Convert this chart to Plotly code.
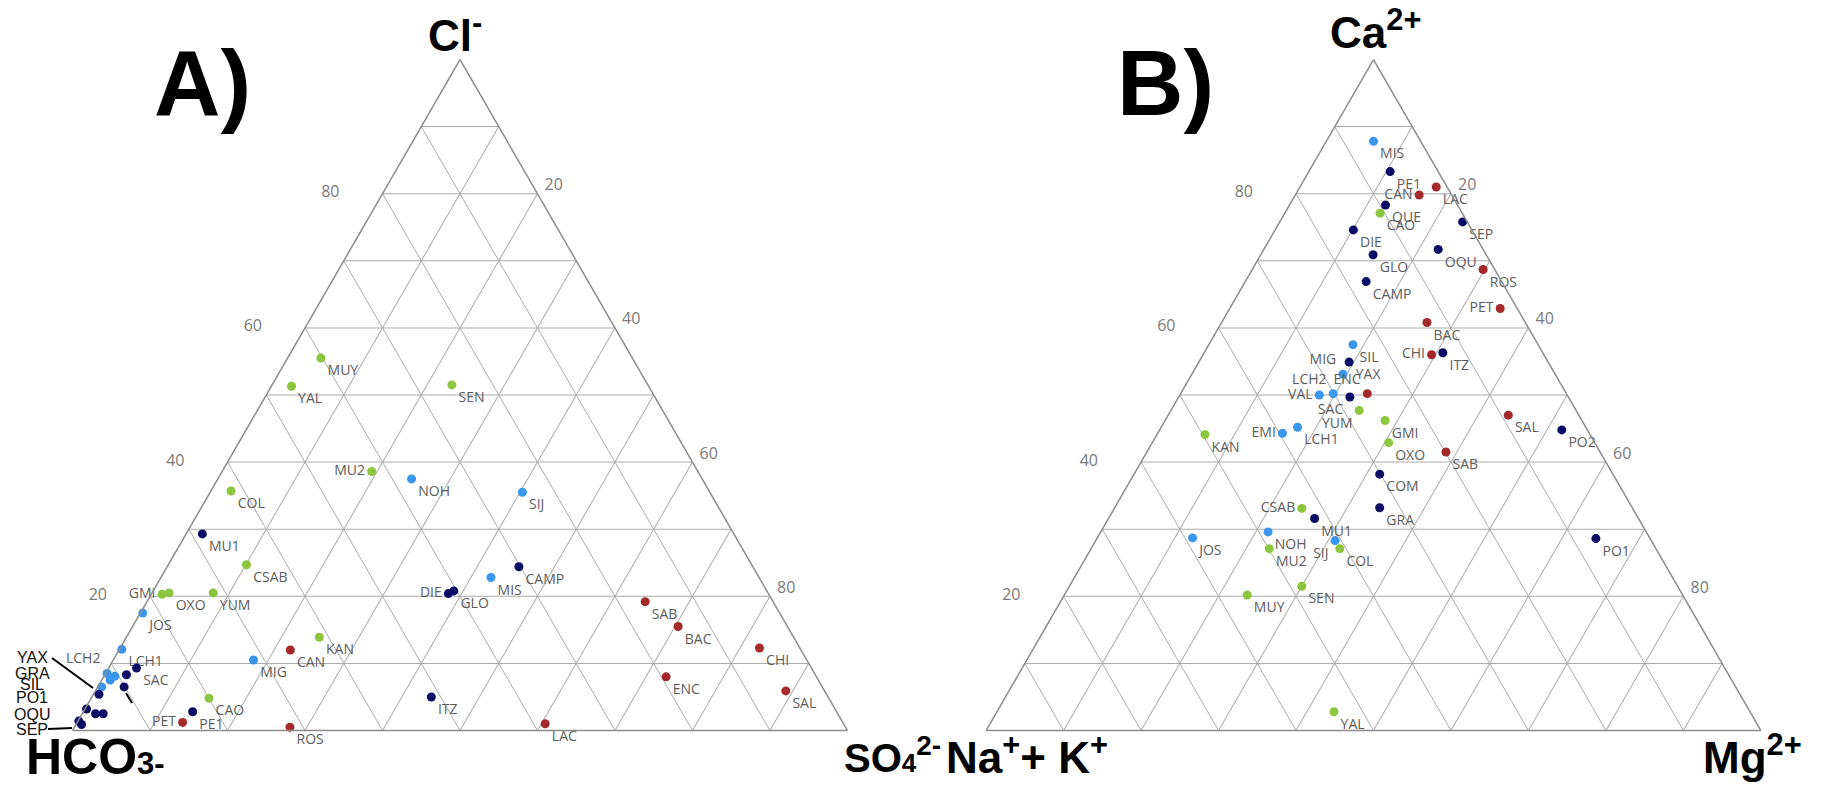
import plotly.graph_objects as go

# ---------------- data ----------------
stations = ["MIS", "PE1", "CAN", "LAC", "QUE", "CAO", "SEP", "DIE", "GLO", "OQU",
            "ROS", "CAMP", "PET", "BAC", "SIL", "CHI", "ITZ", "MIG", "YAX", "LCH2",
            "ENC", "VAL", "SAC", "YUM", "GMI", "SAL", "PO2", "KAN", "EMI", "LCH1",
            "OXO", "SAB", "COM", "CSAB", "MU1", "GRA", "NOH", "JOS", "SIJ", "COL",
            "MU2", "SEN", "MUY", "YAL", "PO1"]
groups = ["G2", "G3", "G4", "G4", "G3", "G1", "G3", "G3", "G3", "G3",
          "G4", "G3", "G4", "G4", "G2", "G4", "G3", "G2", "G3", "G2",
          "G4", "G2", "G3", "G1", "G1", "G4", "G3", "G1", "G2", "G2",
          "G1", "G4", "G3", "G1", "G3", "G3", "G2", "G2", "G2", "G1",
          "G1", "G1", "G1", "G1", "G3"]

# Panel A (anions, %)
cl = [22.8, 2.8, 12.0, 1.0, 0.9, 4.8, 1.4, 20.4, 20.8, 3.2,
      0.5, 24.4, 1.2, 15.5, 6.5, 12.3, 5.0, 10.5, 8.3, 8.5,
      8.0, 8.1, 9.3, 20.5, 20.3, 5.9, 2.5, 13.9, 7.5, 12.1,
      20.5, 19.2, 2.5, 24.7, 29.3, 6.5, 37.5, 17.5, 35.5, 35.7,
      38.6, 51.5, 55.5, 51.3, 5.4]
so4 = [42.6, 14.1, 22.1, 60.5, 0.7, 15.2, 0.1, 38.3, 38.8, 0.2,
       27.8, 45.4, 13.6, 70.4, 0.5, 82.5, 43.8, 18.1, 2.8, 0.2,
       72.6, 1.4, 3.6, 7.9, 1.4, 89.1, 2.7, 24.9, 1.1, 0.3,
       2.2, 64.3, 1.7, 10.1, 2.1, 3.4, 25.0, 0.3, 40.3, 2.6,
       19.3, 23.2, 4.3, 2.6, 0.7]
hco3 = [34.6, 83.1, 65.9, 38.5, 98.4, 80.0, 98.5, 41.3, 40.4, 96.6,
        71.7, 30.2, 85.2, 14.1, 93.0, 5.2, 51.2, 71.4, 88.9, 91.3,
        19.4, 90.5, 87.1, 71.6, 78.3, 5.0, 94.8, 61.2, 91.4, 87.6,
        77.3, 16.5, 95.8, 65.2, 68.6, 90.1, 37.5, 82.2, 24.2, 61.7,
        42.1, 25.3, 40.2, 46.1, 93.9]

# Panel B (cations, %)
ca = [87.8, 83.3, 79.8, 81.0, 78.3, 77.1, 75.8, 74.6, 70.9, 71.7,
      68.7, 66.9, 62.9, 60.8, 57.5, 56.0, 56.3, 53.1, 54.9, 50.2,
      50.2, 50.0, 49.7, 47.7, 46.2, 47.0, 44.8, 44.1, 44.3, 45.2,
      42.9, 41.5, 38.2, 33.1, 31.6, 33.2, 29.6, 28.7, 28.3, 27.1,
      27.1, 21.5, 20.2, 2.8, 28.6]
mg = [6.1, 10.5, 16.0, 17.6, 12.4, 12.3, 23.6, 10.1, 14.5, 22.5,
      29.8, 15.6, 34.9, 26.5, 18.6, 29.5, 30.8, 19.5, 19.4, 19.7,
      24.1, 18.0, 22.1, 24.3, 28.4, 43.9, 51.9, 6.2, 16.1, 17.6,
      30.5, 38.6, 31.7, 24.2, 26.6, 34.2, 21.6, 12.3, 30.9, 32.1,
      23.0, 30.0, 23.6, 43.5, 64.4]
nak = [6.1, 6.2, 4.2, 1.4, 9.3, 10.6, 0.6, 15.3, 14.6, 5.8,
       1.5, 17.5, 2.2, 12.7, 23.9, 14.5, 12.9, 27.4, 25.7, 30.1,
       25.7, 32.0, 28.2, 28.0, 25.4, 9.1, 3.3, 49.7, 39.6, 37.2,
       26.6, 19.9, 30.1, 42.7, 41.8, 32.6, 48.8, 59.0, 40.8, 40.8,
       49.9, 48.5, 56.2, 53.7, 7.0]

tick_vals = [10, 20, 30, 40, 50, 60, 70, 80, 90]
tick_text = ["", "20", "", "40", "", "60", "", "80", ""]

# stations whose labels are gathered at the left of panel A
cluster_labels_A = ["YAX", "GRA", "SIL", "PO1", "OQU", "SEP"]

# ---------------- styling ----------------
colors = {"G1": "#8cc63e", "G2": "#3a95ec", "G3": "#0b0b66", "G4": "#a5282b"}
hidden_A = {"YAX", "GRA", "SIL", "PO1", "OQU", "SEP", "QUE", "VAL", "EMI", "COM", "PO2"}
pos_A = {"MU2": "middle left", "DIE": "middle left", "GMI": "middle left",
         "PET": "middle left", "LCH2": "top left"}
pos_B = {"CAN": "middle left", "CHI": "middle left", "MIG": "top left", "LCH2": "top left",
         "ENC": "top left", "VAL": "middle left", "SAC": "bottom left", "YUM": "bottom left",
         "EMI": "middle left", "CSAB": "middle left", "SIJ": "bottom left", "PET": "middle left"}

label_font = dict(family="Open Sans, Arial", size=14, color="#5c5c5c")

fig = go.Figure()
for g in ["G1", "G2", "G3", "G4"]:
    idx = [i for i, s in enumerate(groups) if s == g]
    fig.add_trace(go.Scatterternary(
        subplot="ternary",
        a=[cl[i] for i in idx], b=[hco3[i] for i in idx], c=[so4[i] for i in idx],
        mode="markers+text",
        text=["" if stations[i] in hidden_A else stations[i] for i in idx],
        textposition=[pos_A.get(stations[i], "bottom right") for i in idx],
        textfont=label_font,
        marker=dict(color=colors[g], size=9),
        cliponaxis=False, showlegend=False, hoverinfo="text",
        hovertext=[stations[i] for i in idx]))
    fig.add_trace(go.Scatterternary(
        subplot="ternary2",
        a=[ca[i] for i in idx], b=[nak[i] for i in idx], c=[mg[i] for i in idx],
        mode="markers+text",
        text=[stations[i] for i in idx],
        textposition=[pos_B.get(stations[i], "bottom right") for i in idx],
        textfont=label_font,
        marker=dict(color=colors[g], size=9),
        cliponaxis=False, showlegend=False, hoverinfo="text",
        hovertext=[stations[i] for i in idx]))


def tern_axis(show_labels=True, ticklen=5):
    return dict(title=dict(text=""), tickmode="array", tickvals=tick_vals, ticktext=tick_text,
                showticklabels=show_labels, ticks="outside", ticklen=ticklen,
                tickcolor="rgba(0,0,0,0)",
                tickfont=dict(family="Open Sans, Arial", size=16, color="#7a7a7a"),
                showgrid=True, gridcolor="#ababab", gridwidth=1,
                showline=True, linecolor="#8c8c8c", linewidth=1.5, min=0)


ydom = [0.0706, 0.9243]
fig.update_layout(
    width=1840, height=786, margin=dict(l=0, r=0, t=0, b=0),
    paper_bgcolor="white", plot_bgcolor="white",
    ternary=dict(sum=100, domain=dict(x=[0.03946, 0.46054], y=ydom), bgcolor="white",
                 aaxis=tern_axis(True, 40), baxis=tern_axis(False), caxis=tern_axis(True, 8)),
    ternary2=dict(sum=100, domain=dict(x=[0.53592, 0.95701], y=ydom), bgcolor="white",
                  aaxis=tern_axis(True, 40), baxis=tern_axis(False), caxis=tern_axis(True, 8)),
)

W, H = 1840.0, 786.0
title_font = dict(family="Liberation Sans Narrow, Arial Narrow, Liberation Sans, Arial", size=44, color="black")
ann = [
    ("<b>A)</b>", 202, 83, "center", dict(family="Liberation Sans, Arial", size=92, color="black")),
    ("<b>B)</b>", 1165, 83, "center", dict(family="Liberation Sans, Arial", size=92, color="black")),
    ("<b>Cl<sup>-</sup></b>", 455, 32, "center", title_font),
    ("<b>Ca<sup>2+</sup></b>", 1375, 30, "center", title_font),
    ("<b>HCO<span style='font-size:31px'>3-</span></b>", 95, 757, "center",
     dict(family="Liberation Sans, Arial", size=50, color="black")),
    ("<b>SO<span style='font-size:26px'>4</span><sup>2-</sup></b>", 842, 755, "left",
     dict(family="Liberation Sans, Arial", size=40, color="black")),
    ("<b>Na<sup>+</sup>+ K<sup>+</sup></b>", 1027, 754, "center", title_font),
    ("<b>Mg<sup>2+</sup></b>", 1752, 754, "center", title_font),
]
for txt, x, y, xa, f in ann:
    fig.add_annotation(text=txt, x=x / W, y=1 - y / H, xref="paper", yref="paper",
                       xanchor=xa, yanchor="middle", showarrow=False, font=f)

stack_y = [657, 673, 684, 697, 714, 729]
for name, y in zip(cluster_labels_A, stack_y):
    fig.add_annotation(text=name, x=32 / W, y=1 - y / H, xref="paper", yref="paper",
                       xanchor="center", yanchor="middle", showarrow=False,
                       font=dict(family="Liberation Sans, Arial", size=16, color="#111"))

for x0, y0, x1, y1 in [(52, 658, 93, 688), (48, 729, 72, 728), (126, 693, 132, 703)]:
    fig.add_shape(type="line", xref="paper", yref="paper",
                  x0=x0 / W, y0=1 - y0 / H, x1=x1 / W, y1=1 - y1 / H,
                  line=dict(color="black", width=2))

fig.write_html("out.html", config={"displayModeBar": False},
               post_script="document.body.style.margin='0';")
